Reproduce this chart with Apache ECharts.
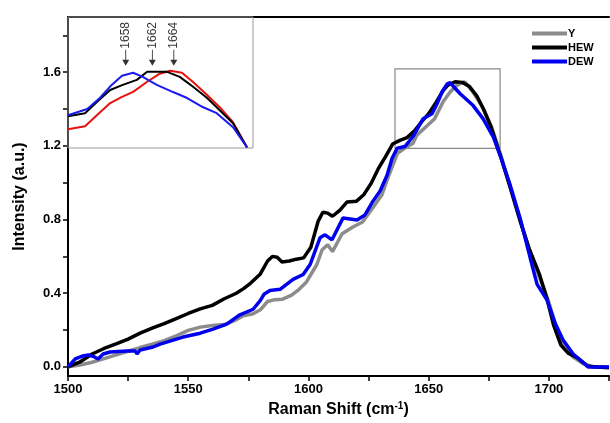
<!DOCTYPE html>
<html>
<head>
<meta charset="utf-8">
<script src="https://cdn.jsdelivr.net/npm/echarts@6/dist/echarts.min.js"></script>
<style>
html,body{margin:0;padding:0;background:#fff;}
#chart{width:610px;height:423px;}
</style>
</head>
<body>
<div id="chart"></div>
<script>
// ---- Main spectra ----
const shiftY = [1500,1505,1510,1515,1520,1525,1530,1535,1540,1545,1550,1555,1560,1565,1569,1573,1577,1580,1583,1586,1589,1593,1596,1599,1603.5,1605.7,1608,1610,1614,1618.5,1622.5,1627,1630.5,1633,1637,1640,1643.5,1645,1649,1652.5,1656,1659,1662,1665,1668,1672,1676,1680,1684,1688,1692,1696,1700,1703,1706,1710,1714,1718,1725];
const intensityY = [0,0.01,0.025,0.045,0.065,0.085,0.105,0.123,0.142,0.168,0.198,0.216,0.225,0.23,0.25,0.278,0.289,0.31,0.355,0.365,0.367,0.39,0.42,0.458,0.556,0.636,0.663,0.626,0.723,0.76,0.787,0.868,0.933,1.025,1.16,1.187,1.214,1.257,1.305,1.348,1.44,1.494,1.532,1.548,1.50,1.42,1.31,1.15,0.975,0.80,0.63,0.49,0.35,0.22,0.12,0.055,0.02,0.0,0.0];

const shiftHEW = [1500,1505,1510,1515,1520,1525,1530,1535,1540,1545,1550,1555,1560,1565,1570,1573,1576,1580,1583,1585,1587,1589,1592,1595,1598,1601,1604,1606,1608,1610,1613,1616,1620,1623,1626,1629,1632,1635,1638,1641,1644,1647,1650,1653,1656,1658,1661,1664,1667,1670,1673,1676,1680,1684,1688,1692,1696,1699,1702,1705,1708,1712,1716,1720,1725];
const intensityHEW = [0,0.027,0.07,0.1,0.125,0.151,0.183,0.21,0.235,0.262,0.29,0.315,0.334,0.37,0.4,0.425,0.455,0.505,0.575,0.6,0.595,0.57,0.575,0.585,0.592,0.65,0.79,0.84,0.835,0.818,0.85,0.895,0.9,0.935,0.995,1.075,1.14,1.21,1.23,1.245,1.28,1.33,1.375,1.435,1.5,1.53,1.548,1.545,1.522,1.472,1.395,1.3,1.14,0.97,0.793,0.635,0.505,0.38,0.225,0.118,0.075,0.048,0.005,0.0,-0.005];

const shiftDEW = [1500,1503,1506,1508.5,1511,1512.5,1514.6,1517.5,1524.5,1528,1528.7,1530,1535.4,1538.3,1542.4,1547.8,1555,1560.3,1566,1571.5,1577,1580,1581.5,1584,1588.2,1593.6,1597.8,1600.7,1604.8,1606.9,1609.8,1614.4,1620.2,1623.5,1626.9,1629.8,1632.7,1634.8,1636.9,1640.2,1643.5,1647.7,1651.4,1653.5,1655.6,1657.7,1658.9,1663.1,1668.5,1672.6,1676.8,1679.7,1683.9,1688,1692.2,1695.1,1699.3,1702.6,1705.9,1710.1,1716.3,1725];
const intensityDEW = [0,0.043,0.059,0.065,0.054,0.043,0.07,0.081,0.086,0.086,0.07,0.092,0.108,0.124,0.14,0.162,0.183,0.205,0.232,0.283,0.313,0.361,0.394,0.415,0.421,0.475,0.502,0.556,0.701,0.717,0.69,0.809,0.798,0.825,0.901,0.955,1.041,1.133,1.187,1.197,1.251,1.348,1.375,1.429,1.494,1.537,1.543,1.483,1.419,1.348,1.251,1.149,0.987,0.809,0.593,0.448,0.361,0.237,0.146,0.07,0.0,0.0];

// ---- Inset (peak region) ----
const insetShiftRed = [1650,1652.3,1653.9,1655.7,1657.3,1658.8,1660.7,1662.4,1663.8,1665.4,1666.9,1668.8,1670.5,1672.3,1674.2];
const insetRed = [1.300,1.316,1.375,1.440,1.473,1.500,1.554,1.597,1.613,1.602,1.553,1.483,1.418,1.338,1.203];
const insetShiftBlack = [1650,1652.3,1653.9,1655.7,1657.4,1659.3,1660.7,1663.4,1665.1,1666.9,1668.8,1670.5,1672.3,1674.2];
const insetBlack = [1.370,1.386,1.446,1.510,1.537,1.564,1.607,1.607,1.580,1.527,1.467,1.402,1.332,1.203];
const insetShiftBlue = [1650,1652.6,1654.3,1655.9,1657.3,1658.8,1660.1,1662.0,1664.2,1666.1,1668.2,1670.1,1672.3,1674.2];
const insetBlue = [1.375,1.408,1.467,1.537,1.586,1.602,1.580,1.537,1.499,1.467,1.419,1.386,1.311,1.203];

const peakLabels = ['1658','1662','1664'];
const peakArrowX = [1657.8,1661.4,1664.3];
const peakArrowY = [1.64,1.64,1.64];

// ---- Zoom box and axis ticks ----
const zoomBox = [[1636,1.187],[1679.7,1.618]];
const xLabelValues = [1500,1550,1600,1650,1700];
const xTickValues = [1500,1525,1550,1575,1600,1625,1650,1675,1700,1725];
const yLabelValues = [0,0.4,0.8,1.2,1.6];
const yTickValues = [0,0.2,0.4,0.6,0.8,1.0,1.2,1.4,1.6,1.8];

const seriesNames = ['Y','HEW','DEW'];
const colors = ['#8c8c8c','#000000','#0000ee'];
const insetColors = ['#e8100c','#000000','#1a1aee'];

function zip(a,b){ return a.map((v,i)=>[v,b[i]]); }

const font = "'Liberation Sans', Arial, sans-serif";
const chart = echarts.init(document.getElementById('chart'), null, {renderer:'canvas'});

const mainLine = (name, xs, ys, color, extra) => Object.assign({
  name: name, type:'line', xAxisIndex:0, yAxisIndex:0,
  data: zip(xs, ys), showSymbol:false, symbol:'none', smooth:false,
  lineStyle:{color:color, width:3.5}, itemStyle:{color:color}, animation:false, z:3
}, extra||{});

const insetLine = (xs, ys, color) => ({
  type:'line', xAxisIndex:2, yAxisIndex:1, data: zip(xs, ys), symbol:'none',
  lineStyle:{color:color, width:2}, itemStyle:{color:color}, animation:false, z:5, clip:true
});

chart.setOption({
  animation:false,
  backgroundColor:'#fff',
  textStyle:{fontFamily:font},
  grid:[
    {left:68, right:1, top:17, bottom:41, containLabel:false},
    {left:68, top:17, width:185, height:131, show:true, borderColor:'#999', borderWidth:1, backgroundColor:'transparent', z:4}
  ],
  legend:{
    data: seriesNames, orient:'vertical', left:527, top:23, itemWidth:35, itemHeight:4, itemGap:3,
    icon:'rect',
    textStyle:{fontFamily:font, fontSize:11, fontWeight:'bold', color:'#000', padding:[0,0,0,-4]}
  },
  xAxis:[
    {type:'value', gridIndex:0, min:1500, max:1725, position:'bottom',
     name:'Raman Shift (cm{sup|-1})', nameLocation:'middle', nameGap:20,
     nameTextStyle:{fontFamily:font, fontSize:16, fontWeight:'bold', color:'#000',
       rich:{sup:{fontSize:10, fontWeight:'bold', verticalAlign:'top', fontFamily:font, padding:[0,0,8,0]}}},
     axisLine:{show:true, onZero:false, lineStyle:{color:'#000', width:2}},
     axisTick:{show:true, length:5, lineStyle:{width:1.5, color:'#000'}, customValues:xTickValues},
     axisLabel:{fontFamily:font, fontSize:13, fontWeight:'bold', color:'#000', margin:7,
       customValues:xLabelValues, formatter:v=>String(Math.round(v))},
     splitLine:{show:false}},
    {type:'value', gridIndex:0, min:1500, max:1725, position:'top',
     axisLine:{show:true, onZero:false, lineStyle:{color:'#000', width:2}},
     axisTick:{show:false}, axisLabel:{show:false}, splitLine:{show:false}},
    {type:'value', gridIndex:1, min:1650, max:1675, show:false}
  ],
  yAxis:[
    {type:'value', gridIndex:0, min:-0.05, max:1.9, position:'left',
     name:'Intensity (a.u.)', nameLocation:'middle', nameGap:40,
     nameTextStyle:{fontFamily:font, fontSize:16, fontWeight:'bold', color:'#000'},
     axisLine:{show:true, onZero:false, lineStyle:{color:'#000', width:2}},
     axisTick:{show:true, length:5, lineStyle:{width:1.5, color:'#000'}, customValues:yTickValues},
     axisLabel:{fontFamily:font, fontSize:13, fontWeight:'bold', color:'#000', margin:7,
       customValues:yLabelValues, formatter:v=>v.toFixed(1)},
     splitLine:{show:false}},
    {type:'value', gridIndex:1, min:1.2, max:1.9, show:false}
  ],
  series:[
    mainLine('Y', shiftY, intensityY, colors[0]),
    mainLine('HEW', shiftHEW, intensityHEW, colors[1]),
    mainLine('DEW', shiftDEW, intensityDEW, colors[2], {
      markArea:{silent:true, itemStyle:{color:'rgba(0,0,0,0)', borderColor:'#888', borderWidth:1.2},
        data:[[{coord:zoomBox[0]},{coord:zoomBox[1]}]]}
    }),
    insetLine(insetShiftRed, insetRed, insetColors[0]),
    insetLine(insetShiftBlack, insetBlack, insetColors[1]),
    insetLine(insetShiftBlue, insetBlue, insetColors[2]),
    {type:'scatter', xAxisIndex:2, yAxisIndex:1, animation:false, z:6,
     data: peakArrowX.map((x,i)=>({value:[x, peakArrowY[i]], name:peakLabels[i]})),
     symbol:'path://M3.5,0 L4.5,0 L4.5,14 L8,14 L4,22 L0,14 L3.5,14 Z',
     symbolSize:[7,16], symbolOffset:[0,'-50%'],
     itemStyle:{color:'#000'},
     label:{show:true, position:'top', distance:1, rotate:90, align:'left', verticalAlign:'middle',
       formatter:p=>p.name, fontFamily:font, fontSize:12, color:'#000'}
    }
  ]
});
</script>
</body>
</html>
